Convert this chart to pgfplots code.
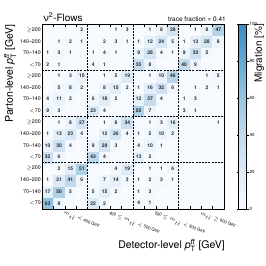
\documentclass[border=0pt]{standalone}
\usepackage{amsmath}
\usepackage{fontspec}
\setmainfont{TeX Gyre Heros}
\usepackage{pgfplots}
\usepackage{pgfplotstable}
\pgfplotsset{compat=1.18}

\pgfplotstableread[row sep=\\]{
x y v\\
0 0 63\\ 1 0 8\\ 2 0 0\\ 3 0 0\\ 4 0 22\\ 5 0 2\\ 6 0 0\\ 7 0 0\\ 8 0 4\\ 9 0 1\\ 10 0 0\\ 11 0 0\\ 12 0 0\\ 13 0 0\\ 14 0 0\\ 15 0 0\\
0 1 17\\ 1 1 50\\ 2 1 5\\ 3 1 0\\ 4 1 5\\ 5 1 15\\ 6 1 2\\ 7 1 0\\ 8 1 1\\ 9 1 3\\ 10 1 0\\ 11 1 0\\ 12 1 0\\ 13 1 0\\ 14 1 0\\ 15 1 0\\
0 2 1\\ 1 2 21\\ 2 2 41\\ 3 2 6\\ 4 2 0\\ 5 2 7\\ 6 2 14\\ 7 2 3\\ 8 2 1\\ 9 2 2\\ 10 2 3\\ 11 2 1\\ 12 2 0\\ 13 2 0\\ 14 2 0\\ 15 2 0\\
0 3 0\\ 1 3 2\\ 2 3 15\\ 3 3 51\\ 4 3 0\\ 5 3 0\\ 6 3 4\\ 7 3 19\\ 8 3 0\\ 9 3 1\\ 10 3 1\\ 11 3 6\\ 12 3 0\\ 13 3 0\\ 14 3 0\\ 15 3 0\\
0 4 32\\ 1 4 6\\ 2 4 0\\ 3 4 0\\ 4 4 43\\ 5 4 4\\ 6 4 0\\ 7 4 0\\ 8 4 13\\ 9 4 2\\ 10 4 0\\ 11 4 0\\ 12 4 0\\ 13 4 0\\ 14 4 0\\ 15 4 0\\
0 5 10\\ 1 5 30\\ 2 5 4\\ 3 5 0\\ 4 5 9\\ 5 5 29\\ 6 5 3\\ 7 5 0\\ 8 5 4\\ 9 5 10\\ 10 5 1\\ 11 5 0\\ 12 5 0\\ 13 5 0\\ 14 5 0\\ 15 5 0\\
0 6 1\\ 1 6 13\\ 2 6 23\\ 3 6 4\\ 4 6 0\\ 5 6 12\\ 6 6 26\\ 7 6 4\\ 8 6 1\\ 9 6 5\\ 10 6 10\\ 11 6 2\\ 12 6 0\\ 13 6 0\\ 14 6 0\\ 15 6 0\\
0 7 0\\ 1 7 1\\ 2 7 8\\ 3 7 27\\ 4 7 0\\ 5 7 1\\ 6 7 8\\ 7 7 34\\ 8 7 0\\ 9 7 1\\ 10 7 3\\ 11 7 16\\ 12 7 0\\ 13 7 0\\ 14 7 0\\ 15 7 1\\
0 8 9\\ 1 8 3\\ 2 8 0\\ 3 8 0\\ 4 8 23\\ 5 8 4\\ 6 8 0\\ 7 8 0\\ 8 8 50\\ 9 8 7\\ 10 8 0\\ 11 8 0\\ 12 8 3\\ 13 8 1\\ 14 8 0\\ 15 8 0\\
0 9 4\\ 1 9 11\\ 2 9 2\\ 3 9 0\\ 4 9 6\\ 5 9 18\\ 6 9 2\\ 7 9 0\\ 8 9 12\\ 9 9 37\\ 10 9 4\\ 11 9 0\\ 12 9 1\\ 13 9 3\\ 14 9 0\\ 15 9 0\\
0 10 0\\ 1 10 5\\ 2 10 8\\ 3 10 2\\ 4 10 0\\ 5 10 8\\ 6 10 15\\ 7 10 2\\ 8 10 1\\ 9 10 16\\ 10 10 32\\ 11 10 6\\ 12 10 0\\ 13 10 1\\ 14 10 2\\ 15 10 1\\
0 11 0\\ 1 11 1\\ 2 11 3\\ 3 11 10\\ 4 11 0\\ 5 11 1\\ 6 11 5\\ 7 11 19\\ 8 11 0\\ 9 11 1\\ 10 11 10\\ 11 11 46\\ 12 11 0\\ 13 11 0\\ 14 11 1\\ 15 11 5\\
0 12 2\\ 1 12 1\\ 2 12 0\\ 3 12 0\\ 4 12 4\\ 5 12 1\\ 6 12 0\\ 7 12 0\\ 8 12 35\\ 9 12 8\\ 10 12 0\\ 11 12 0\\ 12 12 40\\ 13 12 9\\ 14 12 0\\ 15 12 0\\
0 13 1\\ 1 13 3\\ 2 13 1\\ 3 13 0\\ 4 13 1\\ 5 13 4\\ 6 13 1\\ 7 13 0\\ 8 13 9\\ 9 13 28\\ 10 13 4\\ 11 13 1\\ 12 13 9\\ 13 13 33\\ 14 13 5\\ 15 13 0\\
0 14 0\\ 1 14 1\\ 2 14 2\\ 3 14 1\\ 4 14 0\\ 5 14 2\\ 6 14 3\\ 7 14 1\\ 8 14 1\\ 9 14 12\\ 10 14 24\\ 11 14 5\\ 12 14 1\\ 13 14 13\\ 14 14 28\\ 15 14 8\\
0 15 0\\ 1 15 0\\ 2 15 0\\ 3 15 2\\ 4 15 0\\ 5 15 0\\ 6 15 1\\ 7 15 3\\ 8 15 0\\ 9 15 1\\ 10 15 8\\ 11 15 28\\ 12 15 0\\ 13 15 1\\ 14 15 8\\ 15 15 47\\
}\migmat

% non-zero cells, for the printed numbers
\pgfplotstableread[row sep=\\]{
x y v\\
0 0 63\\ 1 0 8\\ 4 0 22\\ 5 0 2\\ 8 0 4\\ 9 0 1\\
0 1 17\\ 1 1 50\\ 2 1 5\\ 4 1 5\\ 5 1 15\\ 6 1 2\\ 8 1 1\\ 9 1 3\\
0 2 1\\ 1 2 21\\ 2 2 41\\ 3 2 6\\ 5 2 7\\ 6 2 14\\ 7 2 3\\ 8 2 1\\ 9 2 2\\ 10 2 3\\ 11 2 1\\
1 3 2\\ 2 3 15\\ 3 3 51\\ 6 3 4\\ 7 3 19\\ 9 3 1\\ 10 3 1\\ 11 3 6\\
0 4 32\\ 1 4 6\\ 4 4 43\\ 5 4 4\\ 8 4 13\\ 9 4 2\\
0 5 10\\ 1 5 30\\ 2 5 4\\ 4 5 9\\ 5 5 29\\ 6 5 3\\ 8 5 4\\ 9 5 10\\ 10 5 1\\
0 6 1\\ 1 6 13\\ 2 6 23\\ 3 6 4\\ 5 6 12\\ 6 6 26\\ 7 6 4\\ 8 6 1\\ 9 6 5\\ 10 6 10\\ 11 6 2\\
1 7 1\\ 2 7 8\\ 3 7 27\\ 5 7 1\\ 6 7 8\\ 7 7 34\\ 9 7 1\\ 10 7 3\\ 11 7 16\\ 15 7 1\\
0 8 9\\ 1 8 3\\ 4 8 23\\ 5 8 4\\ 8 8 50\\ 9 8 7\\ 12 8 3\\ 13 8 1\\
0 9 4\\ 1 9 11\\ 2 9 2\\ 4 9 6\\ 5 9 18\\ 6 9 2\\ 8 9 12\\ 9 9 37\\ 10 9 4\\ 12 9 1\\ 13 9 3\\
1 10 5\\ 2 10 8\\ 3 10 2\\ 5 10 8\\ 6 10 15\\ 7 10 2\\ 8 10 1\\ 9 10 16\\ 10 10 32\\ 11 10 6\\ 13 10 1\\ 14 10 2\\ 15 10 1\\
1 11 1\\ 2 11 3\\ 3 11 10\\ 5 11 1\\ 6 11 5\\ 7 11 19\\ 9 11 1\\ 10 11 10\\ 11 11 46\\ 14 11 1\\ 15 11 5\\
0 12 2\\ 1 12 1\\ 4 12 4\\ 5 12 1\\ 8 12 35\\ 9 12 8\\ 12 12 40\\ 13 12 9\\
0 13 1\\ 1 13 3\\ 2 13 1\\ 4 13 1\\ 5 13 4\\ 6 13 1\\ 8 13 9\\ 9 13 28\\ 10 13 4\\ 11 13 1\\ 12 13 9\\ 13 13 33\\ 14 13 5\\
1 14 1\\ 2 14 2\\ 3 14 1\\ 5 14 2\\ 6 14 3\\ 7 14 1\\ 8 14 1\\ 9 14 12\\ 10 14 24\\ 11 14 5\\ 12 14 1\\ 13 14 13\\ 14 14 28\\ 15 14 8\\
3 15 2\\ 6 15 1\\ 7 15 3\\ 9 15 1\\ 10 15 8\\ 11 15 28\\ 13 15 1\\ 14 15 8\\ 15 15 47\\
}\miglabels

\begin{document}
\begin{tikzpicture}[x=1pt,y=1pt]
\useasboundingbox (0,0) rectangle (266,266);
\begin{axis}[
  at={(42pt,57pt)}, anchor=south west,
  scale only axis, width=182pt, height=185pt,
  xmin=-0.5, xmax=15.5, ymin=-0.5, ymax=15.5,
  enlargelimits=false,
  axis on top,
  colormap={mb}{rgb255(0cm)=(247,251,255); rgb255(1.9cm)=(222,235,247); rgb255(3.85cm)=(198,219,239); rgb255(5.77cm)=(158,202,225); rgb255(7.7cm)=(107,174,214); rgb255(9.6cm)=(66,146,198); rgb255(10cm)=(62,142,196)},
  point meta min=0, point meta max=100,
  colorbar,
  colorbar style={at={(parent axis.north east)}, anchor=north west, xshift=6pt,
    scale only axis, width=8pt, height=185pt,
    ytick={0,20,40,60,80,100},
    yticklabel style={font=\fontsize{4.5}{5}\selectfont, inner sep=1pt, /pgf/number format/assume math mode=true},
    tick align=outside, major tick length=2pt,
    axis line style={line width=0.4pt},
    tick style={line width=0.4pt, black}},
  xtick={1.5,5.5,9.5,13.5},
  xticklabels={{$m_{t\bar{t}} <$ 400 GeV}, {400 $\leq m_{t\bar{t}} <$ 500 GeV}, {500 $\leq m_{t\bar{t}} <$ 800 GeV}, {$m_{t\bar{t}} \geq$ 800 GeV}},
  minor xtick={0.5,2.5,4.5,6.5,8.5,10.5,12.5,14.5},
  xtick pos=both, tick align=inside,
  major tick length=3pt, minor tick length=3pt,
  tick style={black, line width=0.4pt},
  xticklabel style={rotate=-21, anchor=north west, font=\fontsize{4.3}{5}\selectfont, inner sep=0.5pt, yshift=-1pt},
  ytick={0,...,15},
  yticklabels={$<$70,70--140,140--200,$\geq$200,$<$70,70--140,140--200,$\geq$200,$<$70,70--140,140--200,$\geq$200,$<$70,70--140,140--200,$\geq$200},
  ytick style={draw=none},
  yticklabel style={font=\fontsize{5.3}{6}\selectfont, inner sep=1pt},
  axis line style={line width=0.5pt},
]
\addplot[matrix plot*, mesh/cols=16, point meta=explicit] table[x=x, y=y, meta=v] {\migmat};
\addplot[only marks, mark=none, point meta=explicit,
  nodes near coords={\pgfmathprintnumber[fixed,precision=0,assume math mode=true]{\pgfplotspointmeta}},
  nodes near coords align=center,
  nodes near coords style={anchor=center, inner sep=0pt, font=\fontsize{5}{5}\selectfont\bfseries, text=black!85}]
  table[x=x, y=y, meta=v] {\miglabels};
\draw[black, line width=0.8pt, dash pattern=on 2pt off 1.2pt] (axis cs:3.5,-0.5) -- (axis cs:3.5,15.5);
\draw[black, line width=0.8pt, dash pattern=on 2pt off 1.2pt] (axis cs:7.5,-0.5) -- (axis cs:7.5,15.5);
\draw[black, line width=0.8pt, dash pattern=on 2pt off 1.2pt] (axis cs:11.5,-0.5) -- (axis cs:11.5,15.5);
\draw[black, line width=0.8pt, dash pattern=on 2pt off 1.2pt] (axis cs:-0.5,3.5) -- (axis cs:15.5,3.5);
\draw[black, line width=0.8pt, dash pattern=on 2pt off 1.2pt] (axis cs:-0.5,7.5) -- (axis cs:15.5,7.5);
\draw[black, line width=0.8pt, dash pattern=on 2pt off 1.2pt] (axis cs:-0.5,11.5) -- (axis cs:15.5,11.5);
\end{axis}
\node[anchor=base west, font=\fontsize{10}{12}\selectfont, inner sep=0pt] at (43,245) {ν\textsuperscript{2}-Flows};
\node[anchor=base east, font=\fontsize{6.5}{7}\selectfont, inner sep=0pt] at (226,245) {trace fraction = 0.41};
\node[anchor=base east, font=\fontsize{10.5}{12}\selectfont, inner sep=0pt] at (225,18) {Detector-level \textit{p}$_{\text{T}}^{\text{\itshape t\=t}}$ [GeV]};
\node[anchor=base east, rotate=90, font=\fontsize{10.5}{12}\selectfont, inner sep=0pt] at (13,242) {Parton-level \textit{p}$_{\text{T}}^{\text{\itshape t\=t}}$ [GeV]};
\node[anchor=base east, rotate=90, font=\fontsize{10}{12}\selectfont, inner sep=0pt] at (262,242) {Migration [\%]};
\end{tikzpicture}
\end{document}
